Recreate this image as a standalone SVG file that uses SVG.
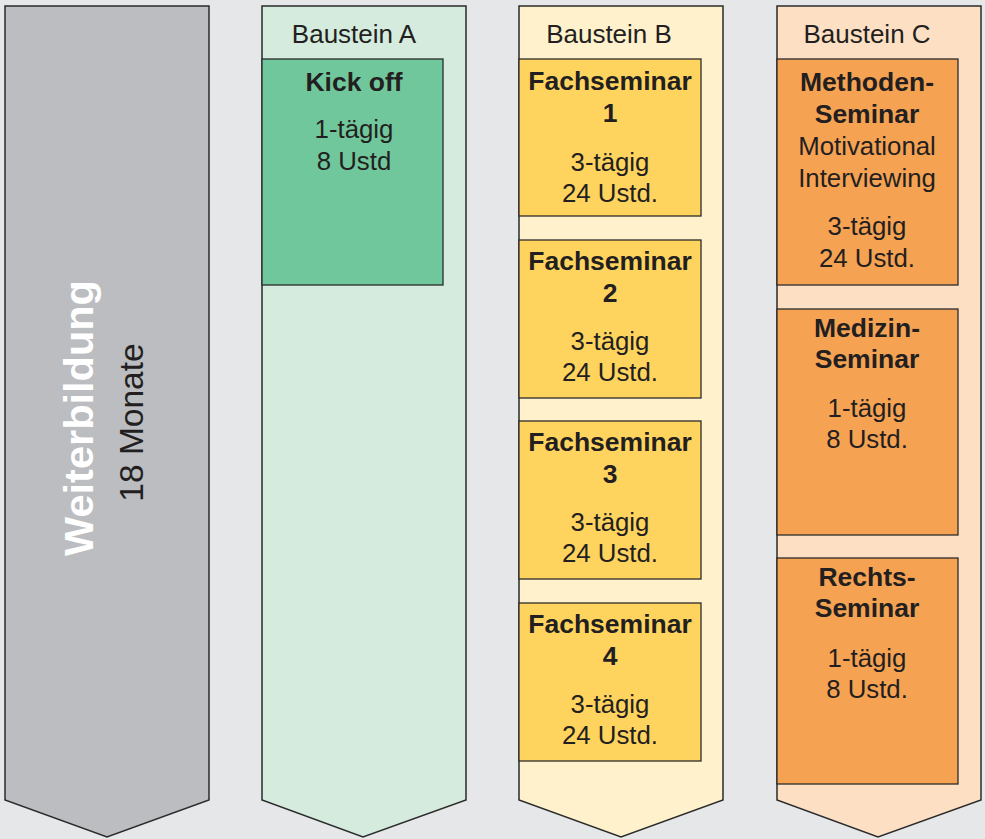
<svg xmlns="http://www.w3.org/2000/svg" width="985" height="839" viewBox="0 0 985 839">
<style>
.col{stroke:#2b2b2b;stroke-width:1.5}
.box{stroke:#2b2b2b;stroke-width:1.3}
text{font-family:"Liberation Sans",Arial,Helvetica,sans-serif;fill:#231f20;text-anchor:middle}
.h{font-size:26px}
.b{font-size:26.5px;font-weight:bold}
.r{font-size:25.8px}
</style>
<rect width="985" height="839" fill="#e6e7e9"/>
<g id="weiterbildung">
<polygon class="col" fill="#bcbdc0" points="5,6 209,6 209,800 107,837 5,800"/>
<text transform="translate(93,418) rotate(-90)" style="font-size:41.5px;font-weight:bold;fill:#ffffff">Weiterbildung</text>
<text transform="translate(143,422.5) rotate(-90)" style="font-size:33.5px">18 Monate</text>
</g>
<g id="baustein-a">
<polygon class="col" fill="#d4ebde" points="262,6 466,6 466,800 363,837 262,800"/>
<text class="h" x="354" y="43">Baustein A</text>
</g>
<g id="kickoff">
<rect class="box" x="262" y="59" width="181" height="226" fill="#71c79c"/>
<text class="b" x="354" y="91">Kick off</text>
<text class="r" x="354" y="138">1-tägig</text>
<text class="r" x="354" y="170">8 Ustd</text>
</g>
<g id="baustein-b">
<polygon class="col" fill="#fef1cc" points="519,6 723,6 723,800 621,837 519,800"/>
<text class="h" x="609" y="43">Baustein B</text>
</g>
<g id="fachseminar-1">
<rect class="box" x="519" y="59" width="182" height="157" fill="#fed45f"/>
<text class="b" x="610" y="90">Fachseminar</text>
<text class="b" x="610" y="122">1</text>
<text class="r" x="610" y="171">3-tägig</text>
<text class="r" x="610" y="202">24 Ustd.</text>
</g>
<g id="fachseminar-2">
<rect class="box" x="519" y="240" width="182" height="158" fill="#fed45f"/>
<text class="b" x="610" y="270">Fachseminar</text>
<text class="b" x="610" y="302">2</text>
<text class="r" x="610" y="350">3-tägig</text>
<text class="r" x="610" y="381">24 Ustd.</text>
</g>
<g id="fachseminar-3">
<rect class="box" x="519" y="421" width="182" height="158" fill="#fed45f"/>
<text class="b" x="610" y="451">Fachseminar</text>
<text class="b" x="610" y="483">3</text>
<text class="r" x="610" y="531">3-tägig</text>
<text class="r" x="610" y="562">24 Ustd.</text>
</g>
<g id="fachseminar-4">
<rect class="box" x="519" y="603" width="182" height="158" fill="#fed45f"/>
<text class="b" x="610" y="633">Fachseminar</text>
<text class="b" x="610" y="665">4</text>
<text class="r" x="610" y="713">3-tägig</text>
<text class="r" x="610" y="744">24 Ustd.</text>
</g>
<g id="baustein-c">
<polygon class="col" fill="#fde0c4" points="777,6 981,6 981,800 878,837 777,800"/>
<text class="h" x="867" y="43">Baustein C</text>
</g>
<g id="methoden-seminar">
<rect class="box" x="777" y="59" width="181" height="226" fill="#f6a253"/>
<text class="b" x="867" y="91">Methoden-</text>
<text class="b" x="867" y="123">Seminar</text>
<text class="r" x="867" y="155">Motivational</text>
<text class="r" x="867" y="187">Interviewing</text>
<text class="r" x="867" y="235">3-tägig</text>
<text class="r" x="867" y="267">24 Ustd.</text>
</g>
<g id="medizin-seminar">
<rect class="box" x="777" y="309" width="181" height="226" fill="#f6a253"/>
<text class="b" x="867" y="337">Medizin-</text>
<text class="b" x="867" y="368">Seminar</text>
<text class="r" x="867" y="417">1-tägig</text>
<text class="r" x="867" y="448">8 Ustd.</text>
</g>
<g id="rechts-seminar">
<rect class="box" x="777" y="558" width="181" height="226" fill="#f6a253"/>
<text class="b" x="867" y="586">Rechts-</text>
<text class="b" x="867" y="617">Seminar</text>
<text class="r" x="867" y="667">1-tägig</text>
<text class="r" x="867" y="698">8 Ustd.</text>
</g>
<g id="connectors"/>
</svg>
